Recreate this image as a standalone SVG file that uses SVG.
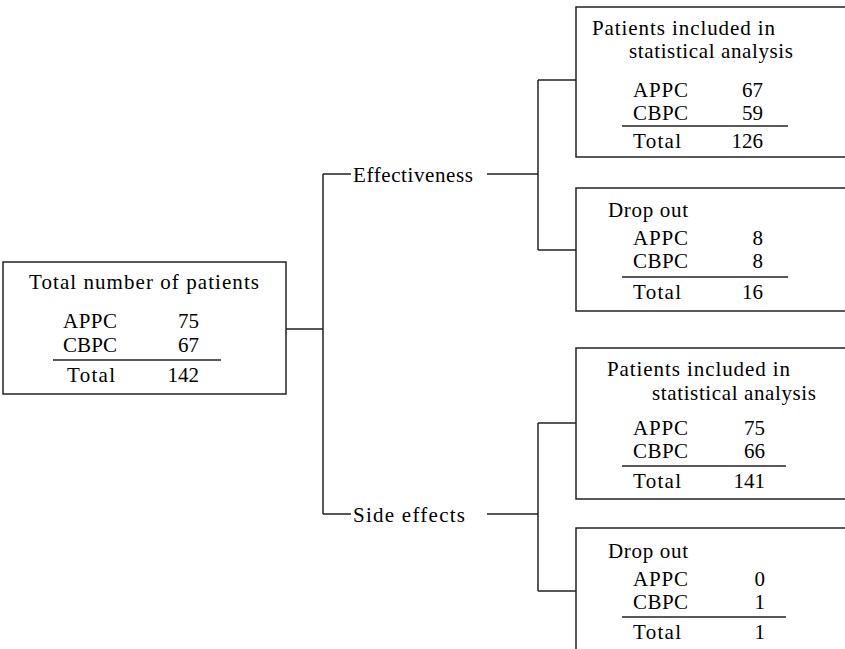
<svg xmlns="http://www.w3.org/2000/svg" width="845" height="649" viewBox="0 0 845 649">
<style>
text{font-family:"Liberation Serif","Times New Roman",serif;font-size:21px;fill:#000}
.num{text-anchor:end}
.box{fill:none;stroke:#222;stroke-width:1.5}
.rule{stroke:#222;stroke-width:1.5}
.conn{fill:none;stroke:#222;stroke-width:1.5}
</style>
<rect width="845" height="649" fill="#fff"/>
<g id="connectors">
<path class="conn" d="M286,329H323M323,174V514M323,174H351M323,514H351"/>
<path class="conn" d="M487,174H538M538,80V250M538,80H576M538,250H576"/>
<path class="conn" d="M487,514H538M538,423V591M538,423H576M538,591H576"/>
</g>
<g id="total">
<rect class="box" x="3" y="262" width="283" height="132"/>
<text x="29" y="289" textLength="230" lengthAdjust="spacing">Total number of patients</text>
<text x="63" y="328" textLength="54" lengthAdjust="spacing">APPC</text>
<text class="num" x="199" y="328">75</text>
<text x="63" y="352" textLength="54" lengthAdjust="spacing">CBPC</text>
<text class="num" x="199" y="352">67</text>
<line class="rule" x1="53" y1="360" x2="221" y2="360"/>
<text x="67" y="382" textLength="48" lengthAdjust="spacing">Total</text>
<text class="num" x="199" y="382">142</text>
</g>
<g id="effectiveness">
<text x="353" y="182" textLength="120" lengthAdjust="spacing">Effectiveness</text>
</g>
<g id="side-effects">
<text x="353" y="522" textLength="112" lengthAdjust="spacing">Side effects</text>
</g>
<g id="eff-included">
<rect class="box" x="576" y="7" width="290" height="150"/>
<text x="592" y="35" textLength="183" lengthAdjust="spacing">Patients included in</text>
<text x="629" y="58" textLength="164" lengthAdjust="spacing">statistical analysis</text>
<text x="633" y="97" textLength="55" lengthAdjust="spacing">APPC</text>
<text class="num" x="763" y="97">67</text>
<text x="633" y="120" textLength="55" lengthAdjust="spacing">CBPC</text>
<text class="num" x="763" y="120">59</text>
<line class="rule" x1="622" y1="126" x2="788" y2="126"/>
<text x="633" y="148" textLength="48" lengthAdjust="spacing">Total</text>
<text class="num" x="763" y="148">126</text>
</g>
<g id="eff-dropout">
<rect class="box" x="576" y="188" width="290" height="123"/>
<text x="608" y="217" textLength="80" lengthAdjust="spacing">Drop out</text>
<text x="633" y="245" textLength="55" lengthAdjust="spacing">APPC</text>
<text class="num" x="763" y="245">8</text>
<text x="633" y="268" textLength="55" lengthAdjust="spacing">CBPC</text>
<text class="num" x="763" y="268">8</text>
<line class="rule" x1="622" y1="277" x2="788" y2="277"/>
<text x="633" y="299" textLength="48" lengthAdjust="spacing">Total</text>
<text class="num" x="763" y="299">16</text>
</g>
<g id="side-included">
<rect class="box" x="576" y="348" width="290" height="151"/>
<text x="607" y="376" textLength="183" lengthAdjust="spacing">Patients included in</text>
<text x="652" y="400" textLength="164" lengthAdjust="spacing">statistical analysis</text>
<text x="633" y="435" textLength="55" lengthAdjust="spacing">APPC</text>
<text class="num" x="765" y="435">75</text>
<text x="633" y="458" textLength="55" lengthAdjust="spacing">CBPC</text>
<text class="num" x="765" y="458">66</text>
<line class="rule" x1="622" y1="466" x2="786" y2="466"/>
<text x="633" y="488" textLength="48" lengthAdjust="spacing">Total</text>
<text class="num" x="765" y="488">141</text>
</g>
<g id="side-dropout">
<rect class="box" x="576" y="528" width="290" height="140"/>
<text x="608" y="558" textLength="80" lengthAdjust="spacing">Drop out</text>
<text x="633" y="586" textLength="55" lengthAdjust="spacing">APPC</text>
<text class="num" x="765" y="586">0</text>
<text x="633" y="609" textLength="55" lengthAdjust="spacing">CBPC</text>
<text class="num" x="765" y="609">1</text>
<line class="rule" x1="622" y1="617" x2="786" y2="617"/>
<text x="633" y="639" textLength="48" lengthAdjust="spacing">Total</text>
<text class="num" x="765" y="639">1</text>
</g>
</svg>
